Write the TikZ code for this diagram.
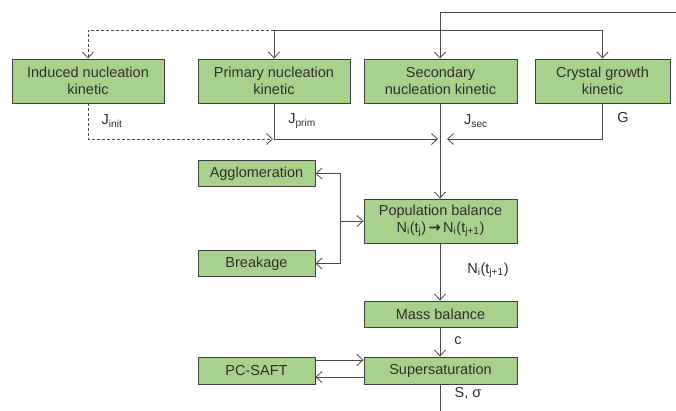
\documentclass[tikz,border=0pt]{standalone}
\usepackage{fontspec}
\setmainfont{Liberation Sans}
\newfontfamily\dvfont{DejaVu Sans}
\usetikzlibrary{arrows.meta}
\definecolor{boxfill}{HTML}{A9D18E}
\definecolor{boxline}{HTML}{3F3F3F}
\definecolor{wire}{HTML}{4A4A4A}
\definecolor{txt}{HTML}{2E2E2E}
\begin{document}
\begin{tikzpicture}[x=1pt,y=-1pt,
  box/.style={draw=boxline,fill=boxfill,line width=0.9pt,inner sep=0pt,align=center,
    font=\fontsize{14.5}{17}\selectfont,text=txt},
  wide/.style={box,minimum width=152pt,minimum height=44pt},
  side/.style={box,minimum width=117pt,minimum height=26pt},
  mid/.style={box,minimum width=153pt},
  lbl/.style={font=\fontsize{14.5}{17}\selectfont,text=txt,inner sep=0pt},
  conn/.style={draw=wire,line width=0.8pt,-{Straight Barb[length=6pt,width=11pt,line width=0.8pt]}},
  line/.style={draw=wire,line width=0.8pt},
  dashline/.style={dash pattern=on 3pt off 2pt}]
\useasboundingbox (0,0) rectangle (676,411);
\fill[white] (0,0) rectangle (676,411);
% boxes
\node[wide] (ind) at (88,81) {Induced nucleation\\kinetic};
\node[wide] (prim) at (274,81) {Primary nucleation\\kinetic};
\node[mid,minimum height=44pt] (sec) at (440.5,81) {Secondary\\nucleation kinetic};
\node[box,minimum width=135pt,minimum height=44pt] (cry) at (602.5,81) {Crystal growth\\kinetic};
\node[side] (agg) at (256.5,173.5) {Agglomeration};
\node[side] (brk) at (256.5,263.5) {Breakage};
\node[mid,minimum height=44pt] (pop) at (440.5,221) {Population balance\\N\textsubscript{i}(t\textsubscript{j}){\dvfont\bfseries\,→\,}N\textsubscript{i}(t\textsubscript{j+1})};
\node[mid,minimum height=26pt] (mass) at (440.5,314) {Mass balance};
\node[mid,minimum height=27pt] (sup) at (440.5,370.5) {Supersaturation};
\node[side,minimum height=27pt] (pc) at (256.5,370.5) {PC-SAFT};
% coordinates
\coordinate (topR) at (676,12);
\coordinate (split) at (440,30);
\coordinate (joinL) at (439,139);
\coordinate (joinR) at (441,139);
\coordinate (dashEnd) at (273,139);
\coordinate (br) at (340,221);
\coordinate (bot) at (440,411);
% top distribution
\draw[line] (topR) -- (440,12);
\draw[conn] (440,12) -- (sec.north -| split);
\draw[line] (split) -- (prim.north |- split);
\draw[conn] (split) -| (cry.north);
\draw[conn] (prim.north |- split) -- (prim.north);
\draw[conn,dashline] (prim.north |- split) -| (ind.north);
% outputs of kinetics
\draw[conn,dashline] (ind.south) |- (dashEnd);
\draw[conn] (prim.south) |- ([xshift=-1pt]joinL);
\draw[conn] (cry.south) |- ([xshift=6pt]joinR);
\draw[conn] (sec.south -| split) -- (pop.north -| split);
% labels
\node[lbl] (lint) at (112,121) {J\textsubscript{init}};
\node[lbl] (lprim) at (302,121) {J\textsubscript{prim}};
\node[lbl] (lsec) at (476,121) {J\textsubscript{sec}};
\node[lbl] (lg) at (623,118) {G};
% agglomeration / breakage
\draw[conn] (br) -- (pop.west);
\draw[conn] (br) |- (agg.east);
\draw[conn] (br) |- (brk.east);
% lower chain
\draw[conn] (pop.south -| split) -- (mass.north -| split);
\node[lbl] (lni) at (488,270) {N\textsubscript{i}(t\textsubscript{j+1})};
\draw[conn] (mass.south -| split) -- (sup.north -| split);
\node[lbl] (lc) at (458,341) {c};
\draw[conn] (pc.east |- 0,360) -- (sup.west |- 0,360);
\draw[conn] (sup.west |- 0,377) -- (pc.east |- 0,377);
\draw[line] (sup.south -| split) -- (bot);
\node[lbl] (ls) at (468,393) {S, σ};
\end{tikzpicture}
\end{document}
